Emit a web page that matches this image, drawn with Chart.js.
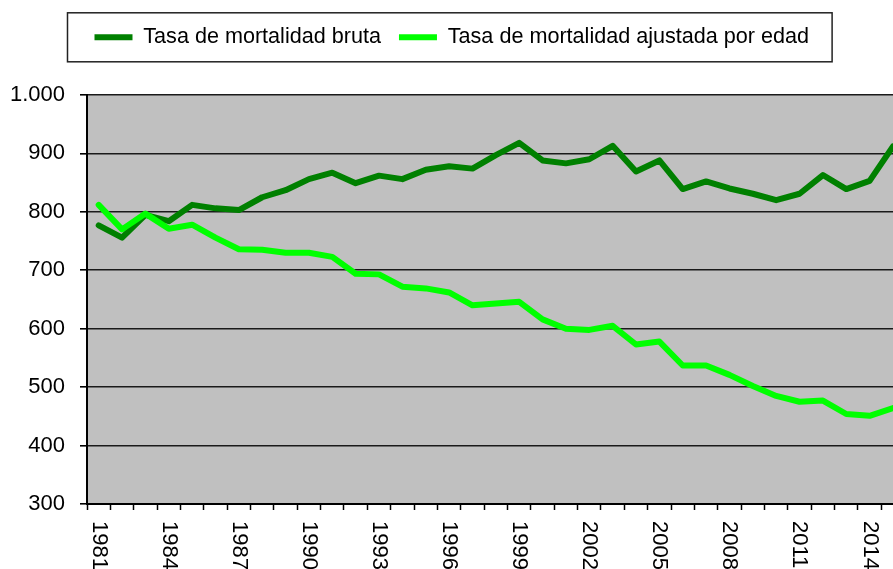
<!DOCTYPE html>
<html>
<head>
<meta charset="utf-8">
<script src="https://cdn.jsdelivr.net/npm/chart.js@4/dist/chart.umd.min.js"></script>
<style>
html,body{margin:0;padding:0;background:#fff;overflow:hidden}
#wrap{position:relative;width:893px;height:569px}
</style>
</head>
<body>
<div id="wrap"><canvas id="c"></canvas></div>
<script>
const years = [1981,1982,1983,1984,1985,1986,1987,1988,1989,1990,1991,1992,1993,1994,1995,1996,1997,1998,1999,2000,2001,2002,2003,2004,2005,2006,2007,2008,2009,2010,2011,2012,2013,2014,2015];
const tickYears = [1981,1984,1987,1990,1993,1996,1999,2002,2005,2008,2011,2014];
const seriesNames = ['Tasa de mortalidad bruta','Tasa de mortalidad ajustada por edad'];
const bruta = [777,756,795,784,812,806,803,825,837,856,867,849,862,856,872,878,874,897,918,888,883,890,913,869,888,839,852,840,831,820,831,863,839,853,912];
const ajustada = [812,770,797,771,778,756,736,735,730,730,723,694,693,672,669,662,640,643,646,616,600,598,605,573,578,537,537,521,502,485,475,477,454,451,464];
const yTickValues = [300,400,500,600,700,800,900,1000];

const FONT = "'Liberation Sans', Arial, sans-serif";

const plotBg = {
  id: 'plotBg',
  beforeDraw(chart) {
    const a = chart.chartArea, ctx = chart.ctx;
    ctx.save();
    ctx.fillStyle = '#C0C0C0';
    ctx.fillRect(a.left, a.top, a.right - a.left, a.bottom - a.top);
    ctx.restore();
  }
};

const legendFix = {
  id: 'legendFix',
  beforeLayout(chart) {
    const lg = chart.legend;
    if (lg && !lg.__patched) {
      const f = lg.fit;
      lg.fit = function() { f.call(this); this.height = 86.5; };
      lg.__patched = true;
    }
  },
  afterLayout(chart) {
    if (chart.legend) chart.legend.left = 10.6;
  },
  afterDraw(chart) {
    const lg = chart.legend;
    if (!lg || !lg.legendHitBoxes || !lg.legendHitBoxes.length) return;
    const hb = lg.legendHitBoxes;
    const first = hb[0], last = hb[hb.length - 1];
    const ctx = chart.ctx;
    ctx.save();
    ctx.strokeStyle = '#222';
    ctx.lineWidth = 1.5;
    const l = first.left - 27, r = last.left + last.width + 23;
    const cy = first.top + first.height / 2;
    ctx.strokeRect(l, cy - 24.5, r - l, 49);
    ctx.restore();
  }
};

const xLabels = {
  id: 'xLabels',
  afterDraw(chart) {
    const xs = chart.scales.x, ctx = chart.ctx;
    ctx.save();
    ctx.font = '22px ' + FONT;
    ctx.fillStyle = '#000';
    ctx.textAlign = 'left';
    ctx.textBaseline = 'middle';
    tickYears.forEach(y => {
      const px = xs.getPixelForValue(y);
      ctx.save();
      ctx.translate(px, xs.top + 17);
      ctx.rotate(Math.PI / 2);
      ctx.fillText(String(y), 0, 0);
      ctx.restore();
    });
    ctx.restore();
  }
};

function fmt(v) {
  return String(v).replace(/\B(?=(\d{3})+(?!\d))/g, '.');
}

new Chart(document.getElementById('c'), {
  type: 'line',
  data: {
    datasets: [
      {
        label: seriesNames[0],
        data: years.map((y, i) => ({x: y, y: bruta[i]})),
        borderColor: '#008000',
        backgroundColor: '#008000',
        borderWidth: 6,
        pointRadius: 0,
        borderCapStyle: 'round',
        borderJoinStyle: 'round',
        tension: 0,
        order: 1
      },
      {
        label: seriesNames[1],
        data: years.map((y, i) => ({x: y, y: ajustada[i]})),
        borderColor: '#00FF00',
        backgroundColor: '#00FF00',
        borderWidth: 6,
        pointRadius: 0,
        borderCapStyle: 'round',
        borderJoinStyle: 'round',
        tension: 0,
        order: 0
      }
    ]
  },
  options: {
    responsive: true,
    maintainAspectRatio: false,
    animation: false,
    devicePixelRatio: 1,
    layout: { padding: { top: 8.5, left: 0, right: 0, bottom: 0 } },
    plugins: {
      tooltip: { enabled: false },
      legend: {
        display: true,
        position: 'top',
        labels: {
          font: { family: FONT, size: 21.6 },
          color: '#000',
          usePointStyle: true,
          pointStyle: 'line',
          pointStyleWidth: 38,
          padding: 18,
          sort: (a, b) => a.datasetIndex - b.datasetIndex
        }
      }
    },
    scales: {
      x: {
        type: 'linear',
        min: 1980.5,
        max: 2015,
        afterBuildTicks(scale) {
          const t = [];
          for (let v = 1980.5; v <= 2014.6; v += 1) t.push({value: v});
          scale.ticks = t;
        },
        afterFit(scale) { scale.height = 65; },
        ticks: { display: false },
        grid: {
          display: true,
          drawOnChartArea: false,
          drawTicks: true,
          tickLength: 6,
          tickColor: '#000',
          tickWidth: 1.5
        },
        border: { display: true, color: '#000', width: 2 }
      },
      y: {
        min: 300,
        max: 1000,
        afterBuildTicks(scale) {
          scale.ticks = yTickValues.map(v => ({value: v}));
        },
        afterFit(scale) { scale.width = 87; },
        ticks: {
          font: { family: FONT, size: 22 },
          color: '#000',
          padding: 15,
          callback: v => fmt(v)
        },
        grid: {
          color: '#1a1a1a',
          lineWidth: 1.6,
          tickLength: 7,
          tickColor: '#000',
          tickWidth: 1.6
        },
        border: { display: true, color: '#000', width: 2 }
      }
    }
  },
  plugins: [plotBg, legendFix, xLabels]
});
</script>
</body>
</html>
